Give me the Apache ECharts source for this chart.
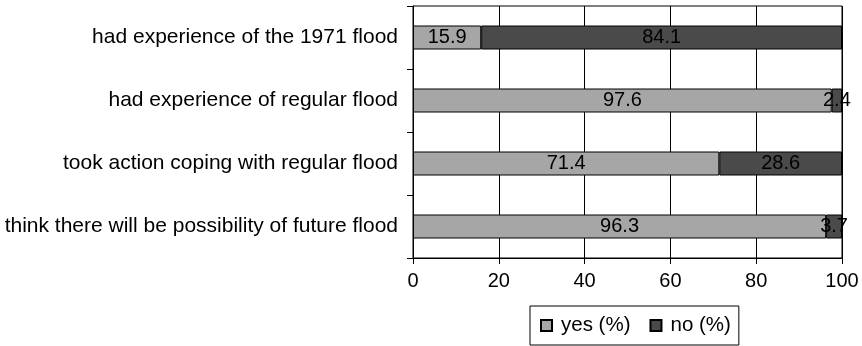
<!DOCTYPE html>
<html>
<head>
<meta charset="utf-8">
<script src="https://cdn.jsdelivr.net/npm/echarts@6/dist/echarts.min.js"></script>
<style>
  html, body { margin: 0; padding: 0; background: #fff; }
  #chart { width: 862px; height: 346px; }
</style>
</head>
<body>
<div id="chart"></div>
<script>
// Survey statements, top to bottom
const categories = [
  'had experience of the 1971 flood',
  'had experience of regular flood',
  'took action coping with regular flood',
  'think there will be possibility of future flood'
];
const yesValues = [15.9, 97.6, 71.4, 96.3];
const noValues = [84.1, 2.4, 28.6, 3.7];
const seriesNames = ['yes (%)', 'no (%)'];
const xTicks = [0, 20, 40, 60, 80, 100];

const FONT = '"Liberation Sans", Arial, sans-serif';
const chart = echarts.init(document.getElementById('chart'), null, { renderer: 'canvas' });

function barSeries(name, data, color) {
  return {
    name: name,
    type: 'bar',
    stack: 'total',
    barWidth: 24,
    data: data,
    itemStyle: { color: color, borderColor: '#000', borderWidth: 1 },
    label: {
      show: true,
      position: 'inside',
      color: '#000',
      fontFamily: FONT,
      fontSize: 20,
      formatter: p => p.value.toFixed(1)
    },
    emphasis: { disabled: true }
  };
}

chart.setOption({
  animation: false,
  textStyle: { fontFamily: FONT },
  grid: {
    left: 413, right: 20, top: 6, bottom: 88,
    show: true, borderColor: '#000', borderWidth: 1, backgroundColor: 'transparent'
  },
  legend: {
    data: seriesNames,
    left: 530, top: 306,
    orient: 'horizontal',
    icon: 'rect',
    itemWidth: 11, itemHeight: 11, itemGap: 19,
    padding: [9, 8, 9, 10],
    borderColor: '#000', borderWidth: 1,
    textStyle: { fontFamily: FONT, fontSize: 20.5, color: '#000', padding: [0, 0, 0, 4] }
  },
  xAxis: {
    type: 'value',
    min: xTicks[0], max: xTicks[xTicks.length - 1], interval: 20,
    axisLine: { show: true, lineStyle: { color: '#000', width: 1 } },
    axisTick: { show: true, length: 6, lineStyle: { color: '#000' } },
    axisLabel: { color: '#000', fontFamily: FONT, fontSize: 20, margin: 13 },
    splitLine: { show: true, lineStyle: { color: '#000', width: 1 } }
  },
  yAxis: {
    type: 'category',
    inverse: true,
    data: categories,
    axisLine: { show: true, lineStyle: { color: '#000', width: 1 } },
    axisTick: { show: true, length: 6, lineStyle: { color: '#000' } },
    axisLabel: { color: '#000', fontFamily: FONT, fontSize: 21, margin: 15 }
  },
  series: [
    barSeries(seriesNames[0], yesValues, '#a6a6a6'),
    barSeries(seriesNames[1], noValues, '#4a4a4a')
  ]
});
</script>
</body>
</html>
